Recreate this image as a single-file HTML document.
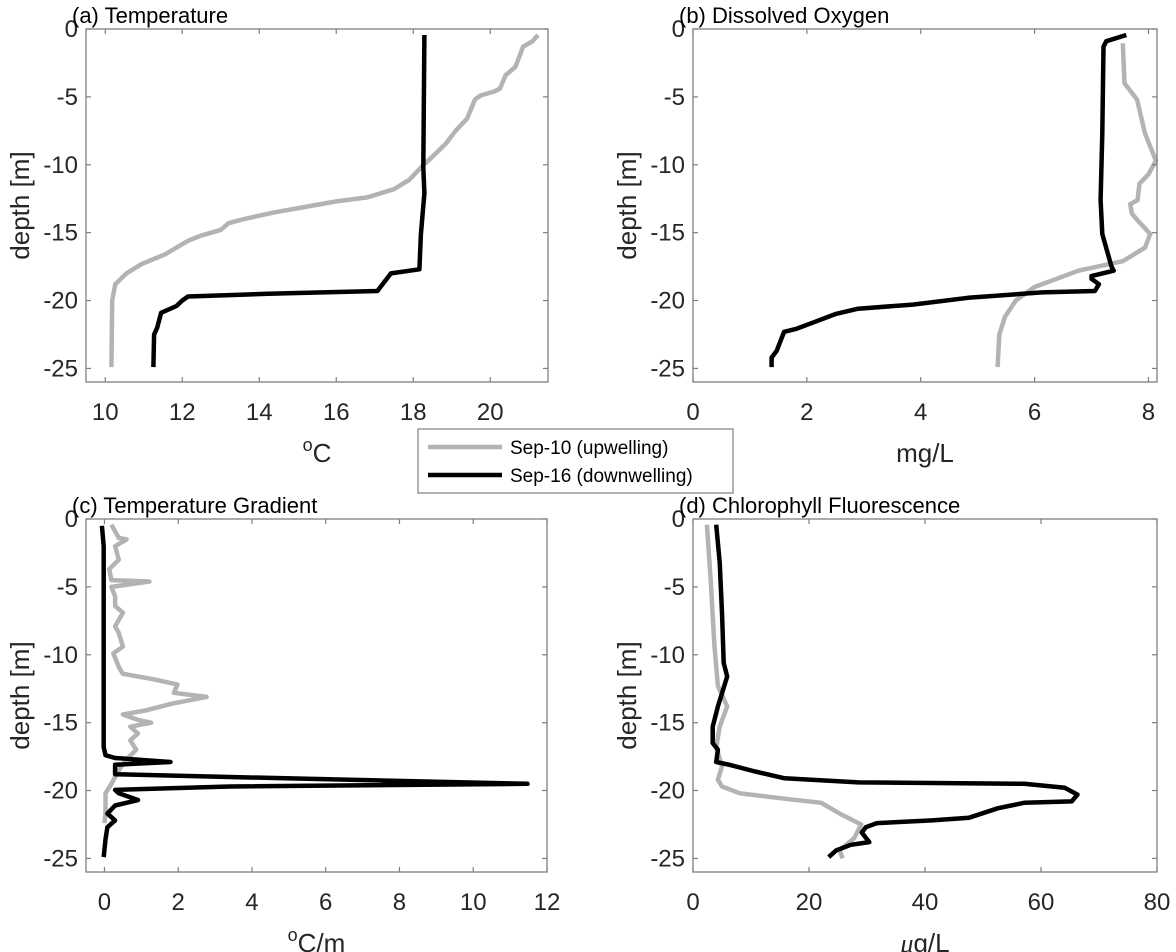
<!DOCTYPE html>
<html><head><meta charset="utf-8"><style>
body{margin:0;background:#fff;}
svg{display:block;font-family:"Liberation Sans",Arial,sans-serif;}
</style></head><body>
<svg id="fig" width="1176" height="952" viewBox="0 0 1176 952" xmlns="http://www.w3.org/2000/svg"></svg>
<script>
const tempUpDepth=[-0.44,-0.9,-1.3,-1.7,-2.8,-3.4,-4.4,-4.6,-4.9,-5.2,-6.6,-7.5,-8.4,-9.4,-10.2,-11.1,-11.8,-12.4,-12.7,-13.1,-13.5,-14.0,-14.3,-14.8,-15.2,-15.6,-16.6,-17.3,-18.0,-18.8,-20.0,-24.9];
const tempUpVal=[21.24,21.1,20.85,20.8,20.65,20.4,20.25,20.1,19.75,19.6,19.4,19.1,18.86,18.5,18.2,17.9,17.5,16.8,16.0,15.2,14.4,13.6,13.2,13.0,12.5,12.15,11.55,10.95,10.55,10.26,10.18,10.16];
const tempDnDepth=[-0.44,-10.2,-12.1,-15.1,-17.7,-18.0,-19.3,-19.5,-19.7,-20.0,-20.4,-20.9,-22.0,-22.5,-24.9];
const tempDnVal=[18.29,18.26,18.29,18.2,18.16,17.42,17.07,14.23,12.15,12.0,11.85,11.45,11.35,11.27,11.25];
const doUpDepth=[-1.05,-4.0,-5.2,-7.7,-9.7,-10.7,-11.4,-12.6,-12.9,-13.6,-14.1,-15.1,-16.1,-17.1,-17.8,-19.0,-20.0,-21.2,-22.5,-24.9];
const doUpVal=[7.55,7.58,7.8,7.94,8.13,8.0,7.84,7.81,7.68,7.71,7.81,8.03,7.94,7.55,6.77,6.0,5.67,5.48,5.38,5.35];
const doDnDepth=[-0.44,-0.9,-1.3,-7.7,-12.6,-15.1,-17.5,-17.8,-18.2,-18.4,-18.8,-19.3,-19.4,-19.8,-20.3,-20.6,-21.0,-21.6,-22.1,-22.3,-23.7,-24.2,-24.9];
const doDnVal=[7.61,7.26,7.21,7.19,7.16,7.19,7.35,7.39,7.0,7.0,7.13,7.06,6.13,4.83,3.86,2.9,2.5,2.12,1.8,1.6,1.47,1.38,1.38];
const gradUpDepth=[-0.42,-1.4,-1.5,-2.0,-3.0,-3.7,-4.5,-4.6,-5.0,-5.7,-6.4,-6.9,-7.9,-8.4,-9.4,-9.9,-10.9,-11.4,-11.8,-12.2,-12.8,-13.1,-13.6,-14.1,-14.4,-14.8,-15.0,-15.3,-15.8,-16.3,-17.0,-17.7,-18.5,-19.0,-19.5,-20.2,-21.7,-22.4];
const gradUpVal=[0.19,0.39,0.6,0.29,0.39,0.13,0.19,1.22,0.19,0.29,0.29,0.5,0.29,0.39,0.5,0.24,0.39,0.5,1.32,1.98,1.88,2.77,1.84,1.12,0.5,0.91,1.27,0.7,0.91,0.7,0.86,0.6,0.39,0.29,0.19,0.03,0.03,0];
const gradDnDepth=[-0.5,-2.0,-16.8,-17.4,-17.6,-17.9,-18.1,-18.6,-18.8,-19.0,-19.5,-19.7,-19.95,-20.2,-20.7,-21.1,-21.7,-22.2,-22.7,-23.6,-24.9];
const gradDnVal=[-0.07,-0.02,-0.02,0.03,0.29,1.79,0.29,0.29,0.29,3.4,11.47,3.4,0.29,0.39,0.91,0.29,0.08,0.29,0.08,0.03,-0.02];
const chlUpDepth=[-0.42,-4.5,-9.4,-12.3,-13.8,-15.3,-16.8,-18.2,-19.2,-19.7,-20.2,-20.6,-20.9,-21.7,-22.5,-23.5,-24.4,-25.0];
const chlUpVal=[2.4,3.05,3.7,4.3,5.9,4.6,4.0,5.0,4.3,5.0,8.1,15.8,22.1,25.3,29.0,27.8,25.3,25.8];
const chlDnDepth=[-0.42,-3.2,-6.9,-10.6,-11.6,-13.8,-15.3,-16.5,-17.0,-17.9,-18.1,-18.6,-19.1,-19.4,-19.5,-19.8,-20.3,-20.8,-20.9,-21.3,-22.0,-22.2,-22.4,-22.7,-23.1,-23.8,-24.0,-24.4,-24.9];
const chlDnVal=[4.0,4.6,5.0,5.3,5.9,4.3,3.4,3.4,4.3,4.0,6.2,10.7,15.8,28.5,57.1,64.1,66.3,65.3,57.1,52.6,47.6,41.2,31.7,29.8,29.1,30.4,27.2,24.7,23.4];
const yTicks=[0,-5,-10,-15,-20,-25];
const xTicksA=[10,12,14,16,18,20];
const xTicksB=[0,2,4,6,8];
const xTicksC=[0,2,4,6,8,10,12];
const xTicksD=[0,20,40,60,80];

const NS="http://www.w3.org/2000/svg";
const svg=document.getElementById('fig');
function mk(tag,attrs,parent){const e=document.createElementNS(NS,tag);for(const k in attrs)e.setAttribute(k,attrs[k]);(parent||svg).appendChild(e);return e;}

function panel(key,L,R,T,B,x0,x1,xt,title,xlabelHTML,series){
  const g=mk('g',{});
  
  
  const sx=v=>L+(v-x0)/(x1-x0)*(R-L);
  const sy=d=>T+(0-d)/26*(B-T);
  series.forEach(s=>{
    const pts=s.d.map((d,i)=>sx(s.v[i]).toFixed(1)+','+sy(d).toFixed(1)).join(' ');
    const p=mk('polyline',{points:pts,fill:'none',stroke:s.c,'stroke-width':4.5,'stroke-linejoin':'round','stroke-linecap':'butt'},g);
    
    
  });
  const box=mk('rect',{x:L,y:T,width:R-L,height:B-T,fill:'none',stroke:'#7f7f7f','stroke-width':1.3},g);
  
  
  yTicks.forEach(t=>{
    const y=sy(t);
    mk('line',{x1:L,y1:y,x2:L+5,y2:y,stroke:'#7f7f7f','stroke-width':1.2},g);
    mk('line',{x1:R,y1:y,x2:R-5,y2:y,stroke:'#7f7f7f','stroke-width':1.2},g);
    const tx=mk('text',{x:L-8,y:y+8,'text-anchor':'end','font-size':24,fill:'#262626'},g);
    tx.textContent=String(t);
    
    
  });
  xt.forEach(t=>{
    const x=sx(t);
    mk('line',{x1:x,y1:B,x2:x,y2:B-5,stroke:'#7f7f7f','stroke-width':1.2},g);
    mk('line',{x1:x,y1:T,x2:x,y2:T+5,stroke:'#7f7f7f','stroke-width':1.2},g);
    const tx=mk('text',{x:x,y:B+38,'text-anchor':'middle','font-size':24,fill:'#262626'},g);
    tx.textContent=t;
    
    
  });
  const ti=mk('text',{x:L-14,y:T-6,'font-size':22,fill:'#000'},g);
  ti.textContent=title;
  
  
  const yl=mk('text',{x:0,y:0,transform:`translate(${L-57},${(T+B)/2}) rotate(-90)`,'text-anchor':'middle','font-size':26,fill:'#262626'},g);
  yl.textContent='depth [m]';
  
  
  const xl=mk('text',{x:(L+R)/2,y:B+80,'text-anchor':'middle','font-size':26,fill:'#262626'},g);
  xl.innerHTML=xlabelHTML;
  
  
}
const GRAY='#b3b3b3',BLK='#000';
panel('temperature',86,548,29,382,9.5,21.5,xTicksA,'(a) Temperature','<tspan font-size="18" dy="-11">o</tspan><tspan dy="11">C</tspan>',
  [{n:'sep10',c:GRAY,d:tempUpDepth,v:tempUpVal},{n:'sep16',c:BLK,d:tempDnDepth,v:tempDnVal}]);
panel('oxygen',693,1157,29,382,0,8.15,xTicksB,'(b) Dissolved Oxygen','mg/L',
  [{n:'sep10',c:GRAY,d:doUpDepth,v:doUpVal},{n:'sep16',c:BLK,d:doDnDepth,v:doDnVal}]);
panel('gradient',86,547,519,872,-0.5,12,xTicksC,'(c) Temperature Gradient','<tspan font-size="18" dy="-11">o</tspan><tspan dy="11">C/m</tspan>',
  [{n:'sep10',c:GRAY,d:gradUpDepth,v:gradUpVal},{n:'sep16',c:BLK,d:gradDnDepth,v:gradDnVal}]);
panel('chlorophyll',693,1157,519,872,0,80,xTicksD,'(d) Chlorophyll Fluorescence','<tspan font-family="Liberation Serif" font-style="italic">μ</tspan>g/L',
  [{n:'sep10',c:GRAY,d:chlUpDepth,v:chlUpVal},{n:'sep16',c:BLK,d:chlDnDepth,v:chlDnVal}]);

const lg=mk('g',{});


mk('rect',{x:418,y:429,width:315,height:64,fill:'#fff',stroke:'#7f7f7f','stroke-width':1.2},lg);
mk('line',{x1:428,y1:447,x2:502,y2:447,stroke:GRAY,'stroke-width':4.5},lg);
mk('line',{x1:428,y1:475,x2:502,y2:475,stroke:BLK,'stroke-width':4.5},lg);
const l1=mk('text',{x:510,y:454,'font-size':19,fill:'#000'},lg);
l1.textContent='Sep-10 (upwelling)';


const l2=mk('text',{x:510,y:482,'font-size':19,fill:'#000'},lg);
l2.textContent='Sep-16 (downwelling)';


</script>
</body></html>
